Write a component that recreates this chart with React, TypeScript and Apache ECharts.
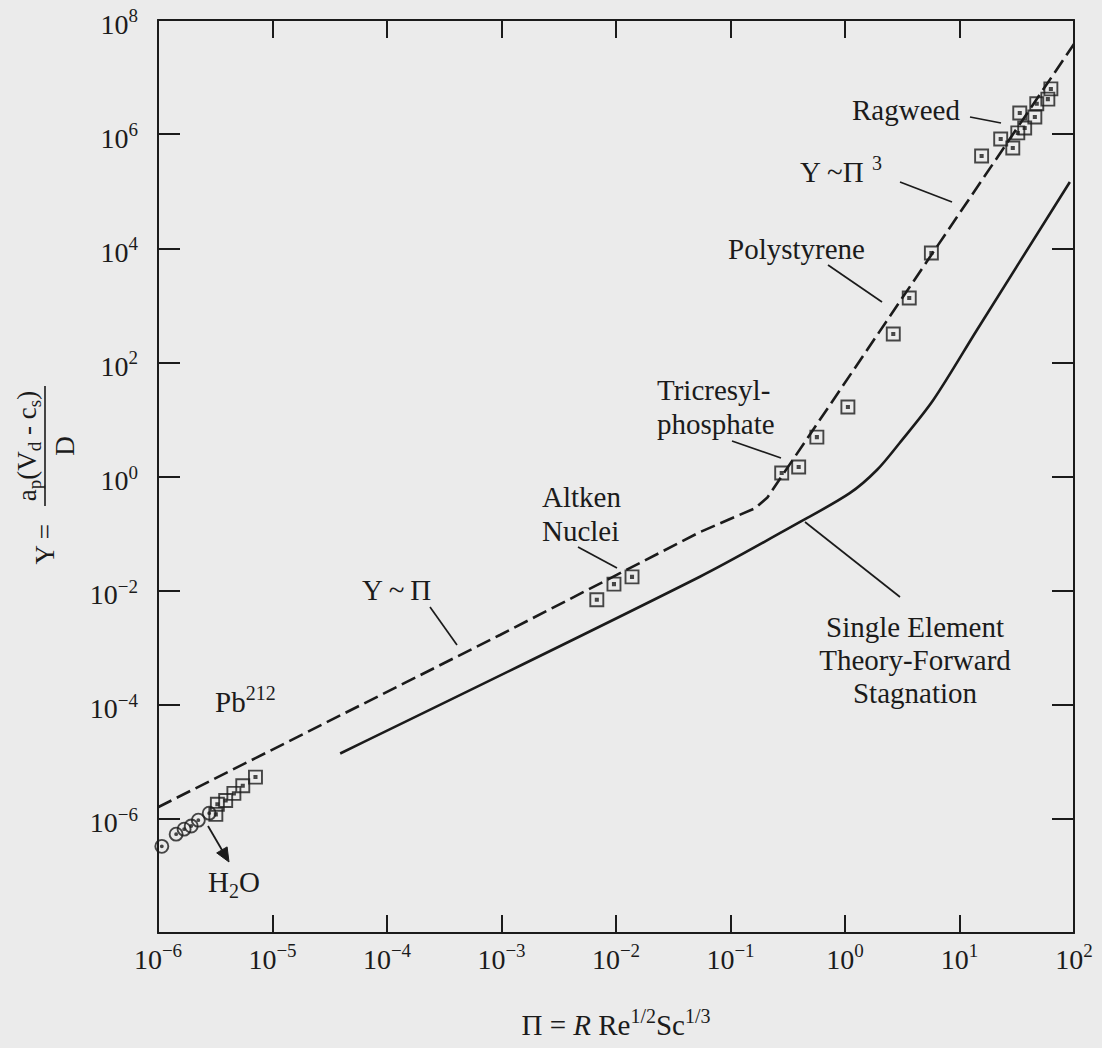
import React, { useEffect, useRef } from 'react';
import * as echarts from 'echarts';

const FONT = "'Liberation Serif', 'Times New Roman', serif";
const INK = '#1b1b1b';
const BG = '#ebebeb';

// tick labels (powers of ten shown on each axis)
const xTickExponents = [-6, -5, -4, -3, -2, -1, 0, 1, 2];
const yTickExponents = [-6, -4, -2, 0, 2, 4, 6, 8];

// curves, [Π, Y]
const dashedCurve = [
  [1e-6, 1.6e-6],
  [9.7e-4, 1.67e-3],
  [0.054, 0.106],
  [0.165, 0.28],
  [0.21, 0.43],
  [100, 3.8e7],
];
const solidCurve = [
  [3.9e-5, 1.4e-5],
  [0.054, 0.0175],
  [0.405, 0.16],
  [1.1, 0.51],
  [1.9, 1.3],
  [3.0, 3.87],
  [5.9, 21.9],
  [14.2, 370],
  [92, 1.45e5],
];

// measured points, [Π, Y]
const h2oPoints = [
  [1.08e-6, 3.3e-7],
  [1.44e-6, 5.4e-7],
  [1.69e-6, 6.6e-7],
  [1.95e-6, 7.5e-7],
  [2.25e-6, 9.5e-7],
  [2.8e-6, 1.26e-6],
];
const pb212Points = [
  [3.2e-6, 1.2e-6],
  [3.3e-6, 1.8e-6],
  [3.9e-6, 2.1e-6],
  [4.6e-6, 2.8e-6],
  [5.5e-6, 3.8e-6],
  [7.1e-6, 5.4e-6],
];
const aitkenPoints = [
  [6.8e-3, 6.9e-3],
  [9.6e-3, 1.3e-2],
  [1.38e-2, 1.74e-2],
];
const tricresylPoints = [
  [0.28, 1.15],
  [0.394, 1.47],
  [0.568, 4.9],
  [1.06, 16.5],
];
const polystyrenePoints = [
  [2.64, 314],
  [3.64, 1343],
  [5.68, 8260],
];
const ragweedPoints = [
  [15.6, 4.14e5],
  [22.9, 8.2e5],
  [29.2, 5.7e5],
  [32.3, 1.05e6],
  [33.6, 2.35e6],
  [37.1, 1.28e6],
  [45.5, 2.0e6],
  [47.3, 3.4e6],
  [59.1, 4.1e6],
  [62.8, 6.2e6],
];

const SQUARE_DOT = 'path://M1 1H13V13H1Z M6 6H8V8H6Z';
const CIRCLE_DOT = 'path://M13 7A6 6 0 1 1 1 7A6 6 0 1 1 13 7Z M7.9 7A0.9 0.9 0 1 1 6.1 7A0.9 0.9 0 1 1 7.9 7Z';

const expText = (e: number) => (e < 0 ? '\u2212' + Math.abs(e) : String(e));
const labelFor = (list: number[]) => (v: number) => {
  const e = Math.round(Math.log10(v));
  return list.includes(e) ? `{b|10}{s|${expText(e)}}` : '';
};

const tickRich = {
  b: { fontSize: 28, lineHeight: 28, fontFamily: FONT, color: INK, padding: [8, 0, 0, 0] },
  s: { fontSize: 19, lineHeight: 19, fontFamily: FONT, color: INK, verticalAlign: 'top' },
};

const supRich = {
  b: { fontSize: 29, lineHeight: 29, fontFamily: FONT, color: INK, padding: [9, 0, 0, 0] },
  s: { fontSize: 20, lineHeight: 20, fontFamily: FONT, color: INK, verticalAlign: 'top' },
};
const subRich = {
  b: { fontSize: 29, lineHeight: 29, fontFamily: FONT, color: INK, padding: [0, 0, 8, 0] },
  u: { fontSize: 20, lineHeight: 20, fontFamily: FONT, color: INK, verticalAlign: 'bottom' },
};

const txt = (x: number, y: number, text: string, extra: any = {}) => ({
  type: 'text',
  x,
  y,
  style: {
    text,
    fill: INK,
    fontFamily: FONT,
    fontSize: 29,
    textAlign: 'left',
    textVerticalAlign: 'middle',
    ...extra,
  },
});
const seg = (x1: number, y1: number, x2: number, y2: number, w = 1.7) => ({
  type: 'line',
  shape: { x1, y1, x2, y2 },
  style: { stroke: INK, lineWidth: w },
});

const scatter = (name: string, data: number[][], symbol: string) => ({
  type: 'scatter',
  name,
  data,
  symbol,
  symbolSize: 13,
  symbolKeepAspect: true,
  itemStyle: { color: 'transparent', borderColor: INK, borderWidth: 1.9 },
  z: 3,
});

export default function App() {
  const ref = useRef<HTMLDivElement>(null);
  useEffect(() => {
    if (!ref.current) return;
    const chart = echarts.init(ref.current, null, { renderer: 'svg' });

    const xBase = {
      type: 'log',
      logBase: 10,
      min: 1e-6,
      max: 1e2,
      interval: 1,
      splitLine: { show: false },
      minorTick: { show: false },
      axisLine: { show: true, lineStyle: { color: INK, width: 2 } },
      axisTick: { show: true, inside: true, length: 18, lineStyle: { color: INK, width: 2 } },
    };
    const yBase = {
      type: 'log',
      logBase: 10,
      min: 1e-8,
      max: 1e8,
      interval: 2,
      splitLine: { show: false },
      minorTick: { show: false },
      axisLine: { show: true, lineStyle: { color: INK, width: 2 } },
      axisTick: { show: true, inside: true, length: 22, lineStyle: { color: INK, width: 2 } },
    };

    const option: any = {
      animation: false,
      backgroundColor: BG,
      grid: { left: 158, top: 20, width: 916, height: 913 },
      xAxis: [
        {
          ...xBase,
          position: 'bottom',
          axisLabel: { margin: 8, formatter: labelFor(xTickExponents), rich: tickRich },
          name: '{t|\u03A0 = }{i|R}{t| Re}{s|1/2}{t|Sc}{s|1/3}',
          nameLocation: 'middle',
          nameGap: 73,
          nameTextStyle: {
            rich: {
              t: { fontSize: 29, lineHeight: 29, fontFamily: FONT, color: INK, padding: [9, 0, 0, 0] },
              i: { fontSize: 29, lineHeight: 29, fontFamily: FONT, fontStyle: 'italic', color: INK, padding: [9, 0, 0, 0] },
              s: { fontSize: 20, lineHeight: 20, fontFamily: FONT, color: INK, verticalAlign: 'top' },
            },
          },
        },
        { ...xBase, position: 'top', axisLabel: { show: false } },
      ],
      yAxis: [
        {
          ...yBase,
          position: 'left',
          axisLabel: { margin: 20, formatter: labelFor(yTickExponents), rich: tickRich },
        },
        { ...yBase, position: 'right', axisLabel: { show: false } },
      ],
      series: [
        {
          type: 'line',
          name: 'Y ~ \u03A0',
          data: dashedCurve,
          symbol: 'none',
          lineStyle: { color: INK, width: 2.6, type: [15, 6] },
          z: 2,
        },
        {
          type: 'line',
          name: 'Single Element Theory-Forward Stagnation',
          data: solidCurve,
          symbol: 'none',
          smooth: 0.3,
          lineStyle: { color: INK, width: 2.6 },
          z: 2,
        },
        scatter('H2O', h2oPoints, CIRCLE_DOT),
        scatter('Pb212', pb212Points, SQUARE_DOT),
        scatter('Altken Nuclei', aitkenPoints, SQUARE_DOT),
        scatter('Tricresylphosphate', tricresylPoints, SQUARE_DOT),
        scatter('Polystyrene', polystyrenePoints, SQUARE_DOT),
        scatter('Ragweed', ragweedPoints, SQUARE_DOT),
      ],
      graphic: [
        // y axis title (rotated)
        {
          type: 'group',
          x: 45,
          y: 446,
          rotation: Math.PI / 2,
          children: [
            txt(-78, 0, 'Y =', { textAlign: 'right', fontSize: 27 }),
            { type: 'line', shape: { x1: -60, y1: 0, x2: 60, y2: 0 }, style: { stroke: INK, lineWidth: 1.6 } },
            {
              type: 'text',
              x: 0,
              y: -15,
              style: {
                text: '{n|a}{u|p}{n|(V}{u|d}{n| - c}{u|s}{n|)}',
                textAlign: 'center',
                textVerticalAlign: 'middle',
                fill: INK,
                rich: {
                  n: { fontSize: 27, lineHeight: 27, fontFamily: FONT, color: INK, padding: [0, 0, 7, 0] },
                  u: { fontSize: 19, lineHeight: 19, fontFamily: FONT, color: INK, verticalAlign: 'bottom' },
                },
              },
            },
            txt(0, 20, 'D', { textAlign: 'center', fontSize: 27 }),
          ],
        },
        // annotations
        txt(852, 110, 'Ragweed'),
        seg(970, 117, 1001, 123),
        txt(800, 167.5, '{b|Y ~\u03A0 }{s|3}', { rich: supRich }),
        seg(900, 182, 952, 202),
        txt(728, 249, 'Polystyrene'),
        seg(828, 265, 882, 302),
        txt(657, 407, 'Tricresyl-\nphosphate', { lineHeight: 34 }),
        seg(732, 441, 781, 458),
        txt(542, 514, 'Altken\nNuclei', { lineHeight: 34 }),
        seg(578, 547, 617, 568),
        txt(362, 590, 'Y\u2009~\u2009\u03A0'),
        seg(430, 607, 457, 645),
        txt(915, 660, 'Single Element\nTheory-Forward\nStagnation', { textAlign: 'center', lineHeight: 33 }),
        seg(805, 522, 900, 597),
        txt(215, 697.5, '{b|Pb}{s|212}', { rich: supRich }),
        txt(208, 886, '{b|H}{u|2}{b|O}', { rich: subRich }),
        seg(208, 826, 222, 850, 1.8),
        {
          type: 'polygon',
          shape: { points: [[229, 862], [216.7, 852.9], [227.1, 846.9]] },
          style: { fill: INK, stroke: INK, lineWidth: 1 },
        },
      ],
    };

    chart.setOption(option);
    return () => chart.dispose();
  }, []);

  return (
    <div
      ref={ref}
      style={{ position: 'absolute', left: 0, top: 0, width: 1102, height: 1048, background: BG }}
    />
  );
}
